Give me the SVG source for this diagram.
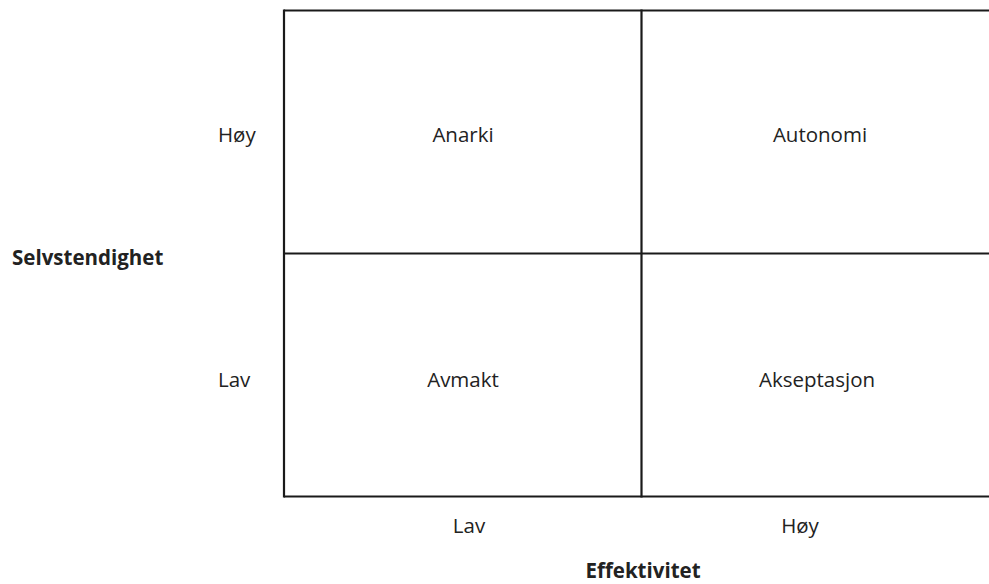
<svg xmlns="http://www.w3.org/2000/svg" width="989" height="584" viewBox="0 0 989 584">
<style>
.ln{stroke:#1a1a1a;stroke-width:2.2;fill:none}
.t{font-family:"Open Sans","Liberation Sans",sans-serif;font-size:20.5px;fill:#222}
.b{font-weight:bold;font-size:20.5px}
.m{text-anchor:middle}
</style>
<rect width="989" height="584" fill="#fff"/>
<g id="grid">
<line class="ln" x1="284" y1="10.5" x2="995" y2="10.5"/>
<line class="ln" x1="284" y1="253.5" x2="995" y2="253.5"/>
<line class="ln" x1="284" y1="496.5" x2="995" y2="496.5"/>
<line class="ln" x1="284" y1="9.5" x2="284" y2="497.5"/>
<line class="ln" x1="641.5" y1="9.5" x2="641.5" y2="497.5"/>
</g>
<g id="q-anarki"><text class="t m" x="463" y="142">Anarki</text></g>
<g id="q-autonomi"><text class="t m" x="820" y="142">Autonomi</text></g>
<g id="q-avmakt"><text class="t m" x="463" y="387">Avmakt</text></g>
<g id="q-akseptasjon"><text class="t m" x="817" y="387">Akseptasjon</text></g>
<g id="labels">
<text class="t" x="218" y="142">Høy</text>
<text class="t" x="218" y="387">Lav</text>
<text class="t m" x="469" y="533">Lav</text>
<text class="t m" x="800" y="533">Høy</text>
<text class="t b" x="12" y="265">Selvstendighet</text>
<text class="t b m" x="643" y="578">Effektivitet</text>
</g>
</svg>
